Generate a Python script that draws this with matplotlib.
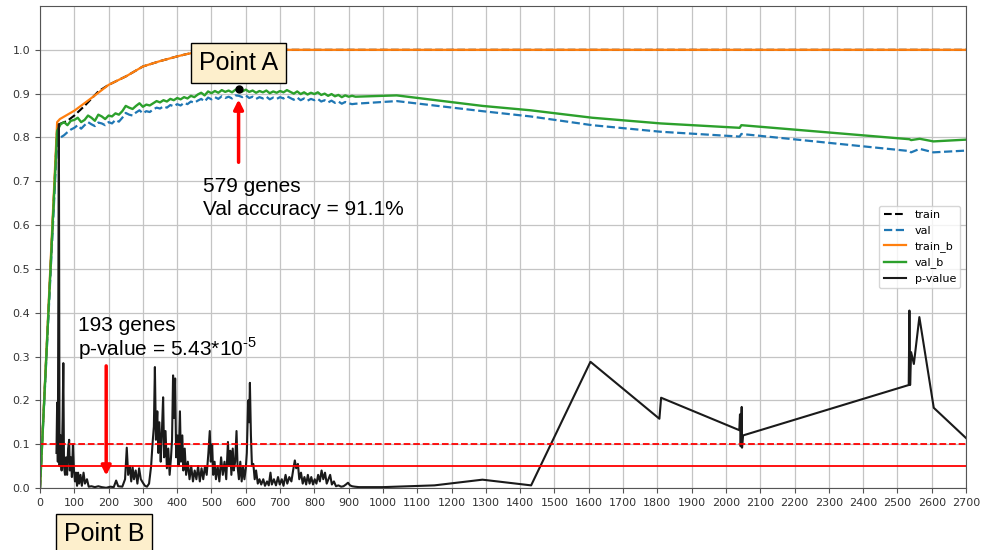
import matplotlib.pyplot as plt

plt.rcParams["mathtext.fontset"] = "custom"
plt.rcParams["mathtext.rm"] = "Liberation Sans"

# x = number of genes kept
acc_x = [0, 50, 60, 70, 80, 90, 100, 110, 120, 130, 140, 150, 160, 170, 180, 190,
         200, 210, 220, 230, 240, 250, 260, 270, 280, 290, 300, 310, 320, 330, 340,
         350, 360, 370, 380, 390, 400, 410, 420, 430, 440, 450, 460, 470, 480, 490,
         500, 510, 520, 530, 540, 550, 560, 570, 580, 590, 600, 610, 620, 630, 640,
         650, 660, 670, 680, 690, 700, 710, 720, 730, 740, 750, 760, 770, 780, 790,
         800, 810, 820, 830, 840, 850, 860, 870, 880, 890, 900, 910, 920,
         1040, 1290, 1430, 1610, 1810, 2040, 2045, 2535, 2540, 2565, 2605, 2700]

val = [0.0, 0.795, 0.800, 0.805, 0.812, 0.818, 0.822, 0.828, 0.820, 0.828, 0.835,
       0.830, 0.826, 0.834, 0.832, 0.828, 0.835, 0.832, 0.840, 0.836, 0.845, 0.856,
       0.852, 0.850, 0.857, 0.862, 0.855, 0.860, 0.858, 0.864, 0.868, 0.866, 0.871,
       0.868, 0.874, 0.871, 0.876, 0.873, 0.879, 0.876, 0.882, 0.879, 0.884, 0.888,
       0.882, 0.891, 0.887, 0.892, 0.888, 0.894, 0.890, 0.893, 0.889, 0.896, 0.895,
       0.892, 0.896, 0.890, 0.893, 0.888, 0.892, 0.889, 0.893, 0.887, 0.891, 0.888,
       0.892, 0.889, 0.894, 0.890, 0.886, 0.891, 0.885, 0.889, 0.884, 0.888, 0.885,
       0.888, 0.882, 0.885, 0.880, 0.884, 0.879, 0.882, 0.877, 0.881, 0.878, 0.876,
       0.877,
       0.883, 0.860, 0.848, 0.828, 0.813, 0.802, 0.808, 0.769, 0.766, 0.774, 0.766, 0.770]

val_b = [0.0, 0.815, 0.830, 0.835, 0.828, 0.838, 0.840, 0.845, 0.835, 0.840, 0.850,
         0.845, 0.838, 0.852, 0.848, 0.842, 0.850, 0.848, 0.855, 0.852, 0.860, 0.872,
         0.868, 0.865, 0.872, 0.878, 0.870, 0.875, 0.873, 0.878, 0.883, 0.880, 0.885,
         0.882, 0.888, 0.885, 0.890, 0.887, 0.892, 0.889, 0.895, 0.892, 0.898, 0.902,
         0.896, 0.905, 0.901, 0.906, 0.902, 0.908, 0.904, 0.907, 0.903, 0.909, 0.908,
         0.905, 0.909, 0.904, 0.907, 0.902, 0.906, 0.903, 0.907, 0.901, 0.905, 0.902,
         0.906, 0.903, 0.908, 0.904, 0.900, 0.905, 0.899, 0.903, 0.898, 0.902, 0.899,
         0.903, 0.897, 0.900, 0.895, 0.899, 0.894, 0.897, 0.892, 0.896, 0.893, 0.895,
         0.893,
         0.896, 0.872, 0.862, 0.845, 0.832, 0.822, 0.828, 0.796, 0.794, 0.797, 0.791, 0.795]

train_x = [0, 50, 55, 80, 100, 130, 170, 200, 252, 300, 349, 400, 426, 465, 500, 540, 2700]
train = [0.0, 0.820, 0.830, 0.838, 0.850, 0.872, 0.905, 0.920, 0.940, 0.962, 0.974,
         0.985, 0.990, 0.996, 0.999, 1.0, 1.0]

train_b_x = [0, 50, 58, 100, 145, 200, 252, 300, 349, 400, 426, 465, 500, 540, 2700]
train_b = [0.0, 0.835, 0.842, 0.861, 0.887, 0.920, 0.940, 0.962, 0.974, 0.985, 0.990,
           0.996, 0.999, 1.0, 1.0]

p_x = [48, 50, 52, 55, 57, 60, 63, 66, 68, 70, 73, 76, 79, 82, 85, 87, 90, 93, 96, 99,
       102, 105, 108, 111, 114, 118, 122, 127, 131, 137, 142, 150, 160, 170, 180, 193,
       205, 215, 222, 228, 240, 248, 253, 257, 262, 266, 270, 274, 279, 284, 289, 294,
       300, 306, 312, 318, 324, 328, 332, 335, 338, 342, 345, 348, 352, 355, 359, 362,
       366, 370, 374, 378, 382, 385, 388, 391, 394, 397, 401, 404, 408, 411, 415, 418,
       422, 426, 431, 436, 441, 446, 451, 456, 461, 466, 471, 476, 481, 486, 491, 495,
       498, 502, 505, 509, 513, 518, 523, 528, 533, 538, 543, 548, 551, 555, 558, 562,
       565, 569, 573, 576, 580, 584, 588, 592, 596, 600, 603, 607, 610, 612, 615, 618,
       622, 626, 630, 635, 640, 645, 651, 656, 662, 667, 672, 676, 682, 688, 694, 699,
       705, 710, 716, 721, 727, 733, 738, 743, 747, 752, 756, 761, 766, 771, 776, 781,
       786, 791, 796, 801, 806, 811, 816, 821, 826, 831, 836, 841, 846, 851, 857, 863,
       870, 878, 885, 892, 898, 904, 910, 918, 930, 1000, 1150, 1290, 1432, 1605, 1806,
       1811, 2039, 2041, 2043, 2046, 2047, 2050, 2533, 2535, 2537, 2540, 2548, 2564,
       2606, 2700]
p_value = [0.08, 0.195, 0.06, 0.83, 0.05, 0.12, 0.04, 0.16, 0.285, 0.05, 0.03, 0.07,
           0.03, 0.09, 0.11, 0.04, 0.07, 0.025, 0.10, 0.04, 0.015, 0.035, 0.005, 0.035,
           0.01, 0.03, 0.005, 0.035, 0.01, 0.02, 0.003, 0.004, 0.002, 0.004, 0.002,
           0.0005, 0.003, 0.002, 0.017, 0.004, 0.003, 0.02, 0.092, 0.03, 0.05, 0.015,
           0.048, 0.02, 0.04, 0.01, 0.045, 0.02, 0.012, 0.005, 0.003, 0.01, 0.05, 0.10,
           0.14, 0.276, 0.11, 0.175, 0.08, 0.15, 0.06, 0.12, 0.207, 0.07, 0.13, 0.045,
           0.09, 0.03, 0.07, 0.11, 0.257, 0.16, 0.25, 0.07, 0.12, 0.05, 0.175, 0.06,
           0.12, 0.04, 0.09, 0.03, 0.06, 0.02, 0.05, 0.015, 0.04, 0.02, 0.05, 0.015,
           0.045, 0.02, 0.05, 0.03, 0.08, 0.13, 0.06, 0.10, 0.03, 0.06, 0.02, 0.05,
           0.015, 0.07, 0.03, 0.06, 0.02, 0.105, 0.05, 0.085, 0.03, 0.09, 0.04, 0.06,
           0.13, 0.05, 0.02, 0.06, 0.015, 0.05, 0.02, 0.045, 0.08, 0.20, 0.15, 0.24,
           0.12, 0.05, 0.055, 0.02, 0.04, 0.01, 0.02, 0.008, 0.02, 0.005, 0.015, 0.006,
           0.035, 0.008, 0.02, 0.006, 0.025, 0.008, 0.02, 0.005, 0.03, 0.01, 0.025,
           0.015, 0.04, 0.063, 0.045, 0.055, 0.02, 0.035, 0.01, 0.025, 0.008, 0.03,
           0.01, 0.025, 0.008, 0.02, 0.01, 0.03, 0.015, 0.04, 0.02, 0.035, 0.01, 0.02,
           0.03, 0.008, 0.015, 0.004, 0.006, 0.003, 0.004, 0.008, 0.012, 0.006, 0.004,
           0.003, 0.002, 0.002, 0.006, 0.019, 0.006, 0.288, 0.158, 0.206, 0.132, 0.168,
           0.095, 0.185, 0.092, 0.12, 0.235, 0.405, 0.235, 0.31, 0.283, 0.39, 0.183,
           0.114]

# thresholds and highlighted points
p_thresholds = [0.1, 0.05]
point_a = (579, 0.911)
point_b = (193, 0.0)

if __name__ == "__main__":
    fig = plt.figure(figsize=(9.88, 5.5), dpi=100)
    ax = fig.add_axes([40 / 988, 62 / 550, 926 / 988, 482 / 550])

    ax.plot(train_x, train, color="black", linestyle="--", linewidth=1.5, label="train")
    ax.plot(acc_x, val, color="#1f77b4", linestyle="--", linewidth=1.6, label="val")
    ax.plot(train_b_x, train_b, color="#ff7f0e", linewidth=1.6, label="train_b")
    ax.plot(acc_x, val_b, color="#2ca02c", linewidth=1.7, label="val_b")
    ax.plot(p_x, p_value, color="#1a1a1a", linewidth=1.5, label="p-value")

    ax.axhline(p_thresholds[0], color="red", linestyle="--", linewidth=1.3)
    ax.axhline(p_thresholds[1], color="red", linewidth=1.3)

    ax.plot(*point_a, "o", color="black", markersize=5, zorder=6)

    ax.set_xlim(0, 2700)
    ax.set_ylim(0, 1.1)
    ax.set_xticks(range(0, 2701, 100))
    ax.set_yticks([i / 10 for i in range(11)])
    ax.tick_params(labelsize=8, labelcolor="#333333", color="#555555")
    ax.grid(True, color="#c4c4c4", linewidth=0.9)
    for s in ax.spines.values():
        s.set_color("#555555")

    ax.legend(loc="center right", fontsize=8)

    note = dict(fontsize=15, family="Liberation Sans", color="black")
    box = dict(boxstyle="square,pad=0.32", facecolor="#fdefcc", edgecolor="black", linewidth=1)

    # Point A
    ax.text(point_a[0], 0.971, "Point A", ha="center", va="center", fontsize=18,
            family="Liberation Sans", bbox=box, zorder=7)
    ax.annotate("", xy=(point_a[0], 0.893), xytext=(point_a[0], 0.737),
                arrowprops=dict(arrowstyle="-|>", color="red", lw=2.5, mutation_scale=14))
    ax.text(475, 0.709, "579 genes\nVal accuracy = 91.1%", ha="left", va="top",
            linespacing=1.27, **note)

    # Point B
    ax.annotate("", xy=(point_b[0], 0.022), xytext=(point_b[0], 0.285),
                arrowprops=dict(arrowstyle="-|>", color="red", lw=2.5, mutation_scale=14))
    ax.text(111, 0.393, "193 genes\np-value = 5.43*10$^{\\text{-5}}$",
            ha="left", va="top", linespacing=1.05, **note)
    fig.text(104 / 988, 1 - 534 / 550, "Point B", ha="center", va="center", fontsize=18,
             family="Liberation Sans", bbox=box)

    fig.savefig("out.png", dpi=100)
